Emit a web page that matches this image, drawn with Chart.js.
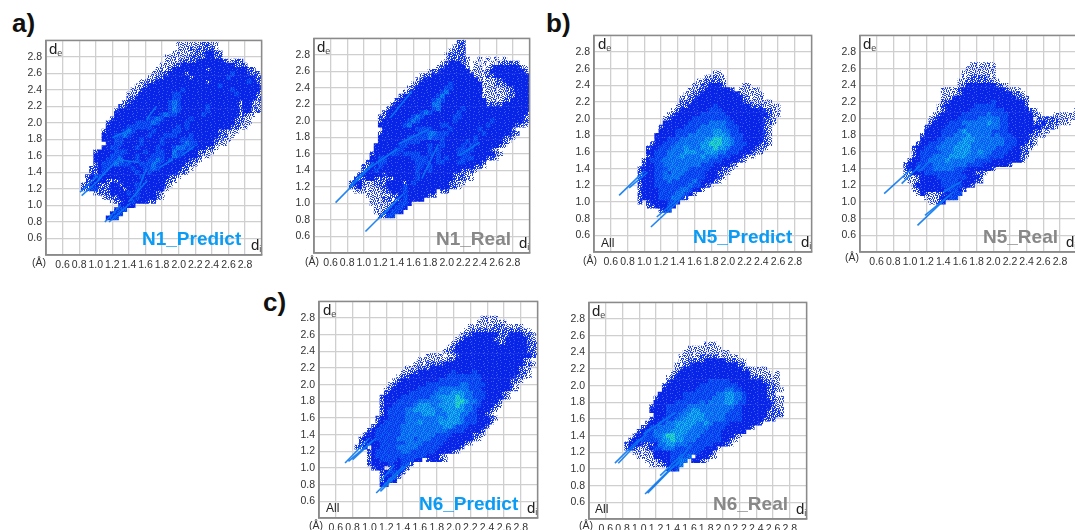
<!DOCTYPE html>
<html>
<head>
<meta charset="utf-8">
<script src="https://cdn.jsdelivr.net/npm/chart.js@4"></script>
<style>
  html, body { margin: 0; background: #fff; }
  #page { position: relative; width: 1075px; height: 530px; overflow: hidden; font-family: "Liberation Sans", sans-serif; color: #222; }
  #page canvas { position: absolute; filter: blur(0.45px); }
  .txt { position: absolute; white-space: nowrap; line-height: 1; }
  .tag { font-size: 26px; font-weight: bold; color: #111; }
  .name { font-size: 19px; font-weight: bold; }
  .axis { font-size: 15px; }
  .axis sub { font-size: 9px; vertical-align: -2px; color: #444; }
  .unit { font-size: 10.5px; color: #333; }
  .all { font-size: 12px; }
</style>
</head>
<body>
<div id="page"></div>
<script>
// tick labels shared by every plot
const tickValues = [0.6, 0.8, 1.0, 1.2, 1.4, 1.6, 1.8, 2.0, 2.2, 2.4, 2.6, 2.8];
const cellStep = 0.05;

// rows: [de, first di, density code per 0.05 of di]
// 1 = sparse dots ... 7 = the green-cyan core
const n1PredictRows = [
  [2.95, 2.00, "1111112211"],
  [2.90, 2.00, "1112122221"],
  [2.85, 1.95, "111112223322"],
  [2.80, 1.85, "11111122223322"],
  [2.75, 1.85, "1111222233333321122"],
  [2.70, 1.80, "111223333333333333222"],
  [2.65, 1.75, "111233333333233333333322"],
  [2.60, 1.70, "11223333233333333334333222"],
  [2.55, 1.65, "1122333333233333333433333322"],
  [2.50, 1.55, "112233333333333323333333334322"],
  [2.45, 1.50, "1123333333333333333343333333332"],
  [2.40, 1.45, "11233333333343333333333343333332"],
  [2.35, 1.40, "112333333334433333333333334333322"],
  [2.30, 1.40, "223333333334433333333333333333322"],
  [2.25, 1.35, "2233333333345433333333333333233212"],
  [2.20, 1.30, "22333333333345433333343333333233211"],
  [2.15, 1.25, "233333333333345433333343333333233121"],
  [2.10, 1.25, "3333333333345443333334333333332211"],
  [2.05, 1.20, "2333333334454333333433333333332211"],
  [2.00, 1.15, "23333334444543333334333333333332211"],
  [1.95, 1.15, "3333344444433333343433333333332211"],
  [1.90, 1.10, "233334543333433334433333333322111"],
  [1.85, 1.10, "33344543333433344433343333332211"],
  [1.80, 1.10, "3334433334333343333444333332211"],
  [1.75, 1.15, "33443333433334333345443333211"],
  [1.70, 1.10, "3344333343333433345544333221"],
  [1.65, 1.00, "23333444333343344335443332211"],
  [1.60, 1.00, "3333444333433344433543333211"],
  [1.55, 1.00, "33344453334334454343333221"],
  [1.50, 1.00, "2344454443344454333333221"],
  [1.45, 0.95, "2234433333433445433333221"],
  [1.40, 0.95, "223433333334334333333221"],
  [1.35, 0.90, "23443333333334333333221"],
  [1.30, 0.90, "2233322233333333333221"],
  [1.25, 0.85, "2233222332333433333321"],
  [1.20, 0.85, "224422233323343333331"],
  [1.15, 1.00, "12223333434333321"],
  [1.10, 1.10, "122233334333321"],
  [1.05, 1.20, "12233433322"],
  [1.00, 1.30, "3333"],
  [0.95, 1.25, "344"],
  [0.90, 1.20, "344"],
  [0.85, 1.15, "344"]
];
const n1PredictLines = [
  [[0.81, 1.16], [1.02, 1.36]], [[0.83, 1.12], [1.05, 1.32]],
  [[1.11, 0.80], [1.30, 1.00]], [[1.16, 0.80], [1.42, 1.03]],
  [[1.02, 1.30], [1.30, 1.60]], [[1.30, 1.55], [1.52, 1.52]],
  [[1.61, 2.04], [1.73, 2.20]], [[1.20, 1.82], [1.42, 1.92]],
  [[2.03, 1.60], [2.19, 1.72]], [[1.77, 1.46], [1.93, 1.56]],
  [[1.53, 1.24], [1.61, 1.44]], [[1.40, 1.05], [1.62, 1.30]]
];

const n1RealRows = [
  [2.95, 2.15, "22"],
  [2.90, 2.10, "122"],
  [2.85, 2.05, "1222"],
  [2.80, 2.00, "12222"],
  [2.75, 2.00, "122221  1 1 1 1"],
  [2.70, 1.95, "1233321 1 1 1 22222"],
  [2.65, 1.90, "12333331 11 1233333321"],
  [2.60, 1.80, "122333333311112333333332"],
  [2.55, 1.70, "12233333333331112233333333321"],
  [2.50, 1.65, "123333333333333111122333333332"],
  [2.45, 1.60, "1233333334333333311122233333321"],
  [2.40, 1.55, "1233333334433333331111112233333321"],
  [2.35, 1.50, "12333333345333333331111112233333321"],
  [2.30, 1.45, "233333333453333333331111112233333321"],
  [2.25, 1.40, "23333333345433333333331111223333333211"],
  [2.20, 1.35, "2333333333553333333333322223333333333211"],
  [2.15, 1.30, "233333333334533333433333333333333333221"],
  [2.10, 1.25, "2333333334543333334333333333333333321"],
  [2.05, 1.20, "2233333345433333334433333333333333321"],
  [2.00, 1.20, "2333333454333333334333333334333333321"],
  [1.95, 1.20, "333333453333333443333333334333333221"],
  [1.90, 1.25, "33333333444433334333333433333332"],
  [1.85, 1.20, "2333333333445544433333333433333322"],
  [1.80, 1.20, "333333344444544433333334333333221"],
  [1.75, 1.20, "33333344443333343333343433333321"],
  [1.70, 1.15, "33333344333334334333343433333321"],
  [1.65, 1.15, "333334433333343433334444333321"],
  [1.60, 1.10, "23333443444433434333344433333321"],
  [1.55, 1.10, "3344333333444433434333444333221"],
  [1.50, 1.05, "23344333333344433443334433332"],
  [1.45, 1.00, "223343333333344343333333333221"],
  [1.40, 1.00, "2334333333333433433333332221"],
  [1.35, 0.95, "2333332333333343333333322211"],
  [1.30, 0.90, "22233222223333343333333322211"],
  [1.25, 0.85, "2332112223333234333333332211"],
  [1.20, 0.85, "223111122333343333333333221"],
  [1.15, 0.90, "11111112233343333333 22"],
  [1.10, 1.05, "11111122343333322"],
  [1.05, 1.10, "1112212343333"],
  [1.00, 1.10, "1111123443"],
  [0.95, 1.15, "11123443"],
  [0.90, 1.15, "1123443"],
  [0.85, 1.20, "2244"]
];
const n1RealLines = [
  [[0.66, 1.01], [1.07, 1.43]], [[0.83, 1.21], [1.12, 1.50]],
  [[1.02, 0.66], [1.39, 1.03]], [[1.22, 0.85], [1.47, 1.11]],
  [[1.07, 1.43], [1.40, 1.66]], [[1.42, 1.72], [1.78, 1.90]],
  [[1.32, 2.04], [1.58, 2.36]], [[1.70, 1.30], [1.90, 1.72]],
  [[2.15, 1.58], [2.40, 1.74]]
];

const n5PredictRows = [
  [2.55, 1.85, "11"],
  [2.50, 1.75, "11211"],
  [2.45, 1.65, "1122221"],
  [2.40, 1.60, "11223332    11"],
  [2.35, 1.55, "11223333332 11111"],
  [2.30, 1.50, "1122333333333211111"],
  [2.25, 1.45, "11223333333333321111"],
  [2.20, 1.45, "2223333333333332211111"],
  [2.15, 1.40, "1223333334333333332221111"],
  [2.10, 1.35, "12333333344433333333332211"],
  [2.05, 1.30, "123333334444443333333333211"],
  [2.00, 1.25, "123333344444444433333333221"],
  [1.95, 1.25, "333333444445555443333333221"],
  [1.90, 1.20, "233333444455555544433333321"],
  [1.85, 1.20, "333344444555566554433333321"],
  [1.80, 1.15, "3333344455555566654443333321"],
  [1.75, 1.15, "3334445555556677665443333321"],
  [1.70, 1.10, "23344455555566777665444333221"],
  [1.65, 1.05, "23344455565556667665444333221"],
  [1.60, 1.05, "3344455556665566655444333211"],
  [1.55, 1.05, "23444555655556555444333211"],
  [1.50, 1.00, "2344455555555555444333321"],
  [1.45, 1.00, "23344555555555444333321"],
  [1.40, 0.95, "23334445555544444333221"],
  [1.35, 0.95, "2333445455544444333221"],
  [1.30, 0.95, "233344555544444433321"],
  [1.25, 0.95, "23334445444445433321"],
  [1.20, 0.95, "233344444444544321"],
  [1.15, 0.95, "2333344444554331"],
  [1.10, 0.95, "23333444455431"],
  [1.05, 0.95, "233334445542"],
  [1.00, 0.95, "2 23333443"],
  [0.95, 1.05, "2233343"],
  [0.90, 1.20, "234"]
];
const n5PredictLines = [
  [[0.70, 1.08], [1.00, 1.37]], [[0.82, 1.17], [1.04, 1.36]],
  [[1.08, 0.70], [1.42, 1.02]], [[1.15, 0.82], [1.45, 1.08]],
  [[1.20, 1.48], [1.42, 1.68]], [[1.36, 1.28], [1.52, 1.40]]
];

const n5RealRows = [
  [2.65, 1.75, "111111"],
  [2.60, 1.70, "1111111"],
  [2.55, 1.65, "11111111"],
  [2.50, 1.65, "11222211"],
  [2.45, 1.60, "1122222211"],
  [2.40, 1.60, "123333333221"],
  [2.35, 1.40, "1111233333333332111"],
  [2.30, 1.40, "11112333333333333221"],
  [2.25, 1.40, "112333333333333333221"],
  [2.20, 1.40, "223333333333433333332               1 1 11"],
  [2.15, 1.35, "1233333334444433333332            1111 1"],
  [2.10, 1.35, "123333334444444433333321         111111"],
  [2.05, 1.30, "12333334444445444433333321   111111211"],
  [2.00, 1.25, "1233333444445555544333333 222221111"],
  [1.95, 1.25, "2333344455555565544333333223222111"],
  [1.90, 1.20, "23333444445555555544333333332221"],
  [1.85, 1.20, "333344445655555544443333332211"],
  [1.80, 1.15, "233334445556555554544433332211"],
  [1.75, 1.15, "3333445555666555555544433321"],
  [1.70, 1.10, "23344455556665555555544433221"],
  [1.65, 1.05, "23344455556666555555444433221"],
  [1.60, 1.05, "2344444555666655655444433322"],
  [1.55, 1.05, "2344455556666555554444333321"],
  [1.50, 1.00, "2334455556555555444433333332"],
  [1.45, 0.95, "23344445555555544443333332"],
  [1.40, 0.95, "2334444555554443333332"],
  [1.35, 0.95, "11333444444444333221"],
  [1.30, 0.95, "1112333344444443332"],
  [1.25, 1.00, "112333334444333322"],
  [1.20, 1.05, "233333344444332"],
  [1.15, 1.05, "1233333344432"],
  [1.10, 1.10, "13211223344"],
  [1.05, 1.20, "11123344"],
  [1.00, 1.25, "1123"]
];
const n5RealLines = [
  [[0.69, 1.10], [1.02, 1.40]], [[0.90, 1.22], [1.12, 1.44]],
  [[1.09, 0.72], [1.47, 1.08]], [[1.18, 0.84], [1.52, 1.12]],
  [[1.10, 1.36], [1.30, 1.55]], [[1.40, 1.12], [1.62, 1.25]]
];

const n6PredictRows = [
  [2.80, 2.35, "1111"],
  [2.75, 2.30, "1111111"],
  [2.70, 2.20, "1111112211111"],
  [2.65, 2.15, "1122222222222211"],
  [2.60, 2.10, "122333333222333221"],
  [2.55, 2.05, "1233333332223333321"],
  [2.50, 2.00, "123333333332233333221"],
  [2.45, 1.95, "12333333333333333332211"],
  [2.40, 1.90, "12233333333333333333221"],
  [2.35, 1.70, "1111 1123333333333333333321"],
  [2.30, 1.60, "111111122333333333333333321"],
  [2.25, 1.55, "11122223333333333333333333221"],
  [2.20, 1.45, "111222333333333333333333333211"],
  [2.15, 1.40, "1122333333334333343333333333221"],
  [2.10, 1.35, "12233333333344444444333333332211"],
  [2.05, 1.30, "1233333333344444444443333333221"],
  [2.00, 1.25, "1233333334444444455444433333321"],
  [1.95, 1.20, "12333333444445555555444333333321"],
  [1.90, 1.20, "233333444444555566655444333321"],
  [1.85, 1.15, "2333344444445566667655444333321"],
  [1.80, 1.15, "23334444455555566677655433332"],
  [1.75, 1.15, "23344444566655666676554433321"],
  [1.70, 1.15, "2344445566666556666655433321"],
  [1.65, 1.15, "234444555566655566655443321"],
  [1.60, 1.10, "23344445555555565666544433321"],
  [1.55, 1.10, "2344444555655556666654443332"],
  [1.50, 1.05, "2344444555555555566544433332"],
  [1.45, 1.00, "2344444455555555555444433332"],
  [1.40, 0.95, "23344444455555555444433333221"],
  [1.35, 0.90, "23334444455554555444433333321"],
  [1.30, 0.90, "223334444445555444443333321"],
  [1.25, 0.85, "223 3344445555544444333332"],
  [1.20, 1.00, "2344444455444444333321"],
  [1.15, 1.00, "2344444444444433321"],
  [1.10, 1.00, "2334444344433 23321"],
  [1.05, 1.00, "23333433442"],
  [1.00, 1.05, "233 23342"],
  [0.95, 1.15, "234432"],
  [0.90, 1.15, "23342"],
  [0.85, 1.15, "2343"],
  [0.80, 1.15, "34"]
];
const n6PredictLines = [
  [[0.71, 1.06], [1.00, 1.36]], [[0.75, 1.08], [1.04, 1.33]], [[0.80, 1.10], [1.08, 1.36]],
  [[1.08, 0.70], [1.40, 1.02]], [[1.13, 0.72], [1.47, 1.06]],
  [[1.13, 0.84], [1.30, 1.04]]
];

const n6RealRows = [
  [2.50, 1.80, "111"],
  [2.45, 1.60, "11111111"],
  [2.40, 1.55, "11111111111"],
  [2.35, 1.50, "11111222211111"],
  [2.30, 1.50, "1122223333322211"],
  [2.25, 1.45, "11223333333333322"],
  [2.20, 1.45, "1233333333333333221111"],
  [2.15, 1.40, "123333333333333333311111 1"],
  [2.10, 1.35, "123333333333333333332221111"],
  [2.05, 1.35, "233333333344444333333332211"],
  [2.00, 1.30, "2333333334444444443333333221"],
  [1.95, 1.30, "33333333444444455443333332211"],
  [1.90, 1.25, "3333334444444455665543333322"],
  [1.85, 1.20, "2333333444444455566554333332211"],
  [1.80, 1.20, "3333344444454555566544333333211"],
  [1.75, 1.15, "23334444455555555555443333333211"],
  [1.70, 1.15, "33334444556655555554443333332221"],
  [1.65, 1.20, "3334445566665555544443333332222"],
  [1.60, 1.15, "233444556666655555444433333222"],
  [1.55, 1.10, "2334455666665565444433333332"],
  [1.50, 1.05, "234455556666555544443333332"],
  [1.45, 1.00, "23445555666655554444333333"],
  [1.40, 0.95, "23344556776655554444433321"],
  [1.35, 0.90, "23344445667665554444443321"],
  [1.30, 0.85, "23332223556655544444433321"],
  [1.25, 0.85, "23211234455544444443331"],
  [1.20, 0.95, "11111333344444443331"],
  [1.15, 1.00, "1111333344445 33321"],
  [1.10, 1.10, "1112334455 3321"],
  [1.05, 1.15, "11123345"],
  [1.00, 1.35, "234"]
];
const n6RealLines = [
  [[0.71, 1.07], [1.00, 1.36]], [[0.75, 1.07], [1.08, 1.42]],
  [[1.07, 0.70], [1.42, 1.05]], [[1.10, 0.71], [1.50, 1.12]], [[1.25, 0.92], [1.52, 1.18]],
  [[1.05, 1.42], [1.44, 1.68]], [[1.44, 1.04], [1.62, 1.30]]
];

// box = plot area in page pixels, the other numbers place the small texts
const panels = [
  { rows: n1PredictRows, lines: n1PredictLines, name: "N1_Predict", nameColor: "#0a9cf5", box: [46, 38, 217, 216], nameAt: [142, 239], de: 49, di: 251, unit: [32, 262] },
  { rows: n1RealRows, lines: n1RealLines, name: "N1_Real", nameColor: "#888888", box: [314, 36, 217, 216], nameAt: [436, 239], de: 317, di: 519, unit: [305, 261] },
  { rows: n5PredictRows, lines: n5PredictLines, name: "N5_Predict", nameColor: "#0a9cf5", box: [594, 33, 219, 218], nameAt: [693, 237], de: 598, di: 801, unit: [583, 260], all: [601, 243] },
  { rows: n5RealRows, lines: n5RealLines, name: "N5_Real", nameColor: "#888888", box: [860, 33, 218, 218], nameAt: [983, 237], de: 863, di: 1066, unit: [845, 257] },
  { rows: n6PredictRows, lines: n6PredictLines, name: "N6_Predict", nameColor: "#0a9cf5", box: [319, 299, 220, 218], nameAt: [419, 504], de: 323, di: 527, unit: [309, 525], all: [326, 508] },
  { rows: n6RealRows, lines: n6RealLines, name: "N6_Real", nameColor: "#888888", box: [589, 300, 219, 218], nameAt: [713, 504], de: 592, di: 796, unit: [579, 525], all: [595, 509] }
];

const tags = [["a)", 12, 10], ["b)", 546, 10], ["c)", 263, 289]];

// fine dot texture of each density code: dot colour, how much of it, second colour for the rest
const grainRows = [
  "4719260385174", "0836152974603", "7251948036291", "3960427185746",
  "8142736950318", "2675091843627", "9304862517094", "1583270946382",
  "6029514738165", "4871603295740", "0352947186529"
];
const levelStyles = [
  ["#1d3ff0", 4, null],
  ["#1236ec", 7, null],
  ["#0824e6", 9, "#3a5ef5"],
  ["#0a38ec", 6, "#0d60f4"],
  ["#0b5cf2", 6, "#0e8cf2"],
  ["#0c7ef2", 6, "#14b8ea"],
  ["#14aee6", 5, "#28dcb4"]
];
const page = document.getElementById("page");

function grainPattern([color, amount, rest]) {
  const tile = document.createElement("canvas");
  tile.width = grainRows[0].length;
  tile.height = grainRows.length;
  const g = tile.getContext("2d");
  grainRows.forEach((row, y) => {
    [...row].forEach((c, x) => {
      const fill = +c < amount ? color : rest;
      if (fill) { g.fillStyle = fill; g.fillRect(x, y, 1, 1); }
    });
  });
  return g.createPattern(tile, "repeat");
}

function addText(html, cls, x, y, color) {
  const el = document.createElement("div");
  el.className = "txt " + cls;
  el.innerHTML = html;
  el.style.left = x + "px";
  el.style.top = y + "px";
  if (color) el.style.color = color;
  page.appendChild(el);
}

function buildDatasets(rows, lines) {
  const levels = levelStyles.map(() => []);
  rows.forEach(([de, firstDi, codes]) => {
    [...codes].forEach((c, i) => {
      if (c !== " ") levels[+c - 1].push({ x: firstDi + i * cellStep, y: de });
    });
  });
  const sets = levels.map((data, i) => ({
    data, type: "scatter", pointStyle: "rect", pointRadius: 3.4, pointHoverRadius: 0,
    pointBorderWidth: 0, backgroundColor: grainPattern(levelStyles[i]), order: 10 - i
  }));
  lines.forEach(l => {
    sets.push({
      data: l.map(p => ({ x: p[0], y: p[1] })), type: "scatter", showLine: true, pointRadius: 0,
      borderColor: "rgba(10,120,240,0.9)", borderWidth: 1.6, order: 0
    });
  });
  return sets;
}

tags.forEach(t => addText(t[0], "tag", t[1], t[2]));

panels.forEach(p => {
  const leftPad = 34, bottomPad = 20;
  const [x, y, w, h] = p.box;
  const canvas = document.createElement("canvas");
  canvas.style.left = (x - leftPad) + "px";
  canvas.style.top = (y - 1) + "px";
  canvas.style.width = (w + leftPad + 2) + "px";
  canvas.style.height = (h + bottomPad + 2) + "px";
  canvas.width = w + leftPad + 2;
  canvas.height = h + bottomPad + 2;
  page.appendChild(canvas);

  const showTick = v => {
    const t = tickValues.find(k => Math.abs(k - v) < 0.001);
    return t === undefined ? "" : t.toFixed(1);
  };
  const axis = {
    type: "linear", min: 0.4, max: 3.0,
    grid: { color: "#cfcfcf", lineWidth: 1.3, drawTicks: false },
    border: { color: "#8a8a8a", width: 1.5 },
    ticks: { stepSize: 0.2, autoSkip: false, maxRotation: 0, padding: 4, color: "#333", font: { family: "Liberation Sans", size: 10.5 }, callback: showTick }
  };
  const noMargins = s => { s.paddingTop = s.paddingBottom = s.paddingLeft = s.paddingRight = 0; };

  new Chart(canvas, {
    type: "scatter",
    data: { datasets: buildDatasets(p.rows, p.lines) },
    options: {
      responsive: false, animation: false,
      layout: { padding: { top: 1, right: 1, left: 0, bottom: 0 } },
      plugins: { legend: { display: false }, tooltip: { enabled: false } },
      scales: {
        x: { ...axis, afterFit: s => { s.height = bottomPad; noMargins(s); } },
        y: { ...axis, afterFit: s => { s.width = leftPad; noMargins(s); } }
      }
    },
    plugins: [{
      id: "frame",
      afterDraw(c) {
        const a = c.chartArea;
        c.ctx.save();
        c.ctx.strokeStyle = "#8a8a8a";
        c.ctx.lineWidth = 1.5;
        c.ctx.strokeRect(a.left, a.top, a.right - a.left, a.bottom - a.top);
        c.ctx.restore();
      }
    }]
  });

  addText(p.name, "name", p.nameAt[0], p.nameAt[1] - 10, p.nameColor);
  addText("d<sub>e</sub>", "axis", p.de, y + 3);
  addText("d<sub>i</sub>", "axis", p.di, y + h - 17);
  addText("(Å)", "unit", p.unit[0], p.unit[1] - 5);
  if (p.all) addText("All", "all", p.all[0], p.all[1] - 6);
});
</script>
</body>
</html>
